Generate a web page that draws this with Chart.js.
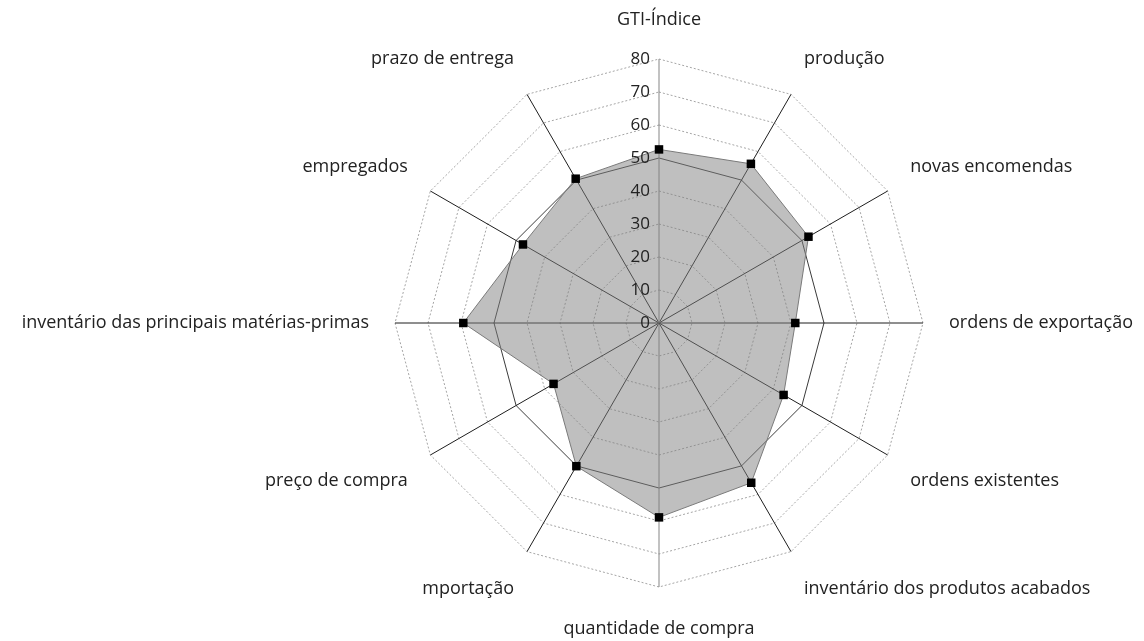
<!DOCTYPE html>
<html>
<head>
<meta charset="utf-8">
<script src="https://cdn.jsdelivr.net/npm/chart.js@4/dist/chart.umd.min.js"></script>
<style>
  html, body { margin: 0; padding: 0; background: #fff; }
  canvas { display: block; }
</style>
</head>
<body>
<canvas id="radar" width="1144" height="641"></canvas>
<script>
// Categories, clockwise from the top
const categories = [
  'GTI-Índice',
  'produção',
  'novas encomendas',
  'ordens de exportação',
  'ordens existentes',
  'inventário dos produtos acabados',
  'quantidade de compra',
  'mportação',
  'preço de compra',
  'inventário das principais matérias-primas',
  'empregados',
  'prazo de entrega'
];

// Index values
const gtiValues = [52.6, 55.7, 52.3, 41.3, 43.6, 55.9, 58.9, 50.1, 36.9, 59.3, 47.6, 50.5];

// Radial axis ticks
const tickValues = [0, 10, 20, 30, 40, 50, 60, 70, 80];

const FONT = '"Open Sans", "Noto Sans", sans-serif';

// Draws tick labels left of the vertical axis and the category labels
const textPlugin = {
  id: 'radarText',
  afterDatasetsDraw(chart) {
    const scale = chart.scales.r;
    const ctx = chart.ctx;
    ctx.save();
    ctx.fillStyle = '#222';

    ctx.font = '17px ' + FONT;
    ctx.textAlign = 'right';
    ctx.textBaseline = 'middle';
    tickValues.forEach(v => {
      const d = scale.getDistanceFromCenterForValue(v);
      ctx.fillText(String(v), scale.xCenter - 9, scale.yCenter - d);
    });

    ctx.font = '18px ' + FONT;
    categories.forEach((label, i) => {
      const deg = i * 360 / categories.length;
      const upper = deg < 90 || deg > 270;
      const px = scale.getPointPosition(i, scale.drawingArea + 26).x;
      let py = scale.getPointPosition(i, scale.drawingArea + (upper ? 29 : 32)).y;
      ctx.textAlign = (deg === 0 || deg === 180) ? 'center' : (deg < 180 ? 'left' : 'right');
      if (deg !== 90 && deg !== 270) py += upper ? -10 : 10;
      ctx.fillText(label, px, py);
    });
    ctx.restore();
  }
};

const ctx = document.getElementById('radar').getContext('2d');

const radarChart = new Chart(ctx, {
  type: 'radar',
  data: {
    labels: categories,
    datasets: [{
      label: 'GTI',
      data: gtiValues,
      backgroundColor: 'rgba(128,128,128,0.5)',
      borderColor: '#7a7a7a',
      borderWidth: 1,
      fill: true,
      pointStyle: 'rect',
      pointRadius: 6,
      pointBackgroundColor: '#000',
      pointBorderColor: '#000',
      pointBorderWidth: 0,
      tension: 0
    }]
  },
  options: {
    responsive: false,
    animation: false,
    layout: {
      padding: { left: 174, right: 0, top: 59, bottom: 54 }
    },
    plugins: {
      legend: { display: false },
      tooltip: { enabled: false }
    },
    scales: {
      r: {
        min: 0,
        max: 80,
        ticks: { stepSize: 10, display: false },
        pointLabels: { display: false },
        grid: {
          color: c => (c.tick && c.tick.value === 50 ? '#3a3a3a' : '#a5a5a5'),
          lineWidth: 1
        },
        border: {
          dash: c => (c.tick && c.tick.value === 50 ? [] : [2, 2])
        },
        angleLines: {
          color: c => (c.index % 6 === 0 ? '#858585' : '#1e1e1e'),
          lineWidth: 1
        }
      }
    }
  },
  plugins: [textPlugin]
});
</script>
</body>
</html>
